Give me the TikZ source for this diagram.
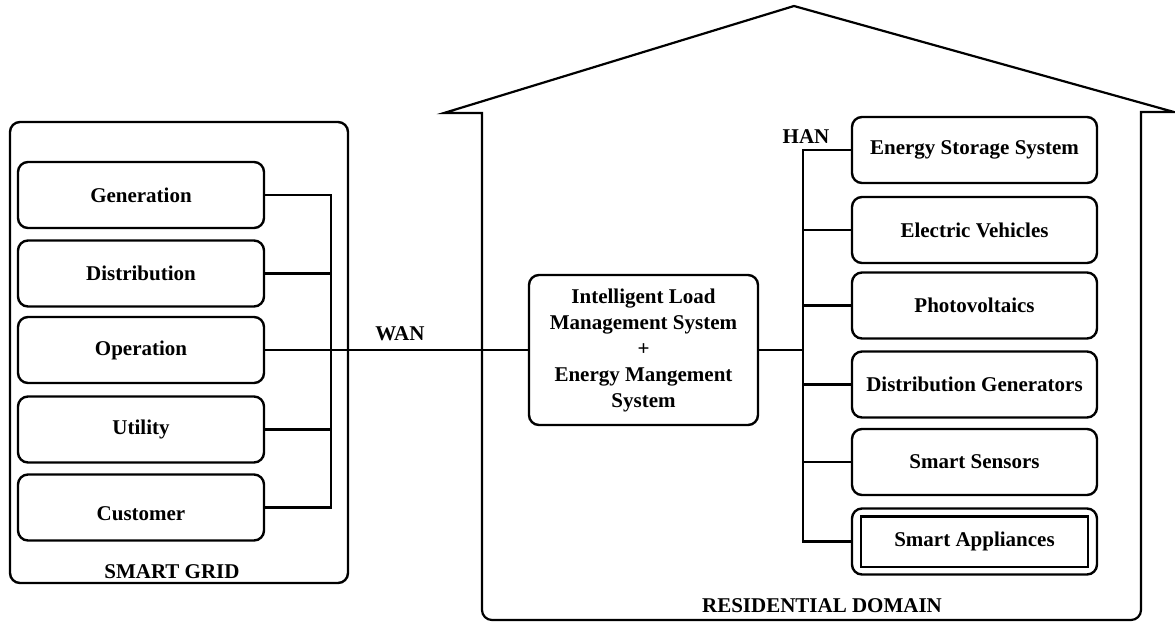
\documentclass[tikz,border=0pt]{standalone}
\usepackage{fontspec}
\setmainfont{Liberation Serif}

\begin{document}
\begin{tikzpicture}[
    x=0.5pt, y=-0.5pt,
    font=\fontsize{10.5}{13}\selectfont\bfseries,
    wire/.style={line width=1.2pt},
    frame/.style={line width=1.2pt, rounded corners=5pt},
    unit/.style={draw, line width=1.2pt, rounded corners=5pt,
                 minimum width=123pt, minimum height=33pt, inner sep=0pt},
    device/.style={unit, minimum width=122.5pt},
    caption/.style={inner sep=0pt, anchor=base}
]
\useasboundingbox (0,0) rectangle (1175,622);

% Smart grid side
\draw[frame] (10,122) rectangle (348,583);
\node[unit] (gen)  at (141,195)   {Generation};
\node[unit] (dist) at (141,273.5) {Distribution};
\node[unit] (oper) at (141,350)   {Operation};
\node[unit] (util) at (141,429.5) {Utility};
\node[unit] (cust) at (141,507.5) {\raisebox{-3pt}[\height][\depth]{Customer}};
\node[caption] (grid) at (172,578) {SMART GRID};

\coordinate (busL) at (331,0);
\draw[wire] (gen.east) -| (cust.east -| busL) -- (cust.east);
\foreach \n in {dist,oper,util}
    \draw[wire] (\n.east) -- (\n.east -| busL);

% House outline
\draw[frame, line width=1.1pt, rounded corners=0pt]
    (482,300) -- (482,113) -- (444,113) -- (794,6) -- (1174,112)
    -- (1141,112) -- (1141,300) [rounded corners=5pt] -- (1141,620)
    -- (482,620) -- cycle;
\node[caption] (home) at (822,612) {RESIDENTIAL DOMAIN};

% Management system and WAN link
\node[unit, minimum width=114.5pt, minimum height=75pt, align=center] (ilms)
    at (643.5,350)
    {Intelligent Load\\Management System\\+\\Energy Mangement\\System};
\draw[wire] (oper.east) -- (oper.east -| ilms.west);
\node[caption] (wan) at (400,340) {WAN};

% Home area network
\node[device] (ess)  at (974.5,150)   {Energy Storage System};
\node[device] (ev)   at (974.5,230)   {Electric Vehicles};
\node[device] (pv)   at (974.5,305.5) {Photovoltaics};
\node[device] (dg)   at (974.5,384.5) {Distribution Generators};
\node[device] (sens) at (974.5,462)   {Smart Sensors};
\node[device] (appl) at (974.5,541.5) {Smart Appliances};
\draw[line width=1.2pt]
    ([shift={(10,9)}]appl.north west) rectangle ([shift={(-10,-9)}]appl.south east);

\coordinate (busR) at (803,0);
\draw[wire] (ess.west) -| (appl.west -| busR) -- (appl.west);
\foreach \n in {ev,pv,dg,sens}
    \draw[wire] (\n.west) -- (\n.west -| busR);
\draw[wire] (ilms.east) -- (ilms.east -| busR);
\node[caption] (han) at (806,143) {HAN};

\end{tikzpicture}
\end{document}
